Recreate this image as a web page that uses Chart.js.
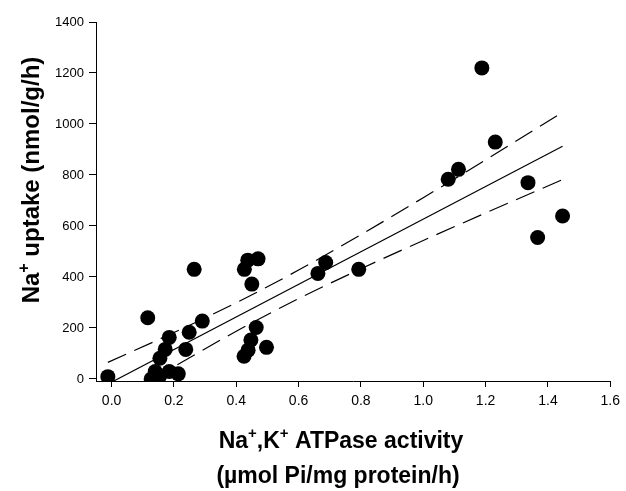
<!DOCTYPE html>
<html>
<head>
<meta charset="utf-8">
<script src="https://cdn.jsdelivr.net/npm/chart.js@4/dist/chart.umd.min.js"></script>
<style>
  html, body { margin: 0; padding: 0; background: #fff; }
  #wrap { width: 626px; height: 491px; }
</style>
</head>
<body>
<div id="wrap"><canvas id="c"></canvas></div>
<script>
// Na+,K+ ATPase activity (x) vs Na+ uptake (y), one dot per sample
const activity = [-0.012, 0.116, 0.127, 0.140, 0.153, 0.155, 0.172, 0.185, 0.185, 0.214,
                  0.238, 0.249, 0.265, 0.291, 0.425, 0.426, 0.437, 0.438, 0.447, 0.450,
                  0.464, 0.470, 0.497, 0.662, 0.687, 0.793, 1.080, 1.113, 1.188, 1.231,
                  1.336, 1.367, 1.447];
const uptake   = [9, 240, 0, 29, 9, 81, 116, 163, 29, 20,
                  116, 183, 430, 227, 89, 430, 466, 113, 153, 372,
                  202, 471, 124, 414, 457, 430, 783, 822, 1220, 929,
                  770, 555, 639];

// regression line and its 95% band, read along the x axis
const fitX   = [0.004, 1.447];
const fitY   = [-10, 913];
const upperX = [-0.012, 0.2, 0.4, 0.6, 0.8, 1.0, 1.2, 1.447];
const upperY = [65, 182, 299, 427, 566, 711, 859, 1046];
const lowerX = [0.13, 0.2, 0.4, 0.6, 0.8, 1.0, 1.2, 1.447];
const lowerY = [0, 48, 187, 315, 432, 543, 651, 782];

const xTicks = [0, 0.2, 0.4, 0.6, 0.8, 1.0, 1.2, 1.4, 1.6];
const yTicks = [0, 200, 400, 600, 800, 1000, 1200, 1400];

// axis titles as runs, superscript runs flagged
const yTitle  = [['Na'], ['+', true], [' uptake (nmol/g/h)']];
const xTitle1 = [['Na'], ['+', true], [',K'], ['+', true], [' ATPase activity']];
const xTitle2 = [['(\u00b5mol Pi/mg protein/h)']];

const FONT = '"Liberation Sans", Arial, sans-serif';

function pairs(xs, ys) {
    return xs.map((x, i) => ({ x: x, y: ys[i] }));
}

function runsWidth(ctx, runs, size, supSize) {
    let w = 0;
    runs.forEach(r => {
        ctx.font = 'bold ' + (r[1] ? supSize : size) + 'px ' + FONT;
        w += ctx.measureText(r[0]).width;
    });
    return w;
}

function drawRuns(ctx, runs, cx, baseline, size) {
    const supSize = Math.round(size * 0.66);
    let x = cx - runsWidth(ctx, runs, size, supSize) / 2;
    ctx.textAlign = 'left';
    ctx.textBaseline = 'alphabetic';
    runs.forEach(r => {
        const s = r[1] ? supSize : size;
        ctx.font = 'bold ' + s + 'px ' + FONT;
        ctx.fillText(r[0], x, r[1] ? baseline - size * 0.42 : baseline);
        x += ctx.measureText(r[0]).width;
    });
}

const axisTitles = {
    id: 'axisTitles',
    afterDraw(chart) {
        const ctx = chart.ctx;
        ctx.save();
        ctx.fillStyle = '#000';
        drawRuns(ctx, xTitle1, 341, 448, 23);
        drawRuns(ctx, xTitle2, 338, 483, 23);
        ctx.translate(39, 180);
        ctx.rotate(-Math.PI / 2);
        drawRuns(ctx, yTitle, 0, 0, 24);
        ctx.restore();
    }
};

new Chart(document.getElementById('c'), {
    data: {
        datasets: [
            {
                type: 'scatter',
                data: pairs(activity, uptake),
                backgroundColor: '#000',
                borderColor: '#000',
                borderWidth: 0,
                pointRadius: 7.5,
                order: 0
            },
            {
                type: 'line',
                data: pairs(fitX, fitY),
                borderColor: '#000',
                borderWidth: 1.2,
                pointRadius: 0,
                order: 1
            },
            {
                type: 'line',
                data: pairs(upperX, upperY),
                borderColor: '#000',
                borderWidth: 1.2,
                borderDash: [20, 9],
                pointRadius: 0,
                cubicInterpolationMode: 'monotone',
                order: 1
            },
            {
                type: 'line',
                data: pairs(lowerX, lowerY),
                borderColor: '#000',
                borderWidth: 1.2,
                borderDash: [20, 9],
                pointRadius: 0,
                cubicInterpolationMode: 'monotone',
                order: 1
            }
        ]
    },
    options: {
        responsive: true,
        maintainAspectRatio: false,
        animation: false,
        layout: { padding: { left: 0, top: 22, right: 13, bottom: 0 } },
        plugins: {
            legend: { display: false },
            tooltip: { enabled: false }
        },
        scales: {
            x: {
                type: 'linear',
                min: -0.05,
                max: 1.6,
                afterBuildTicks: s => { s.ticks = xTicks.map(v => ({ value: v })); },
                afterFit: s => { s.height = 110; },
                ticks: {
                    color: '#000',
                    padding: 6,
                    font: { family: FONT, size: 14 },
                    callback: v => v.toFixed(1)
                },
                grid: { drawOnChartArea: false, drawTicks: true, tickLength: 6, color: '#000' },
                border: { color: '#000', width: 1 }
            },
            y: {
                type: 'linear',
                min: -8,
                max: 1400,
                afterBuildTicks: s => { s.ticks = yTicks.map(v => ({ value: v })); },
                afterFit: s => { s.width = 96; },
                ticks: {
                    color: '#000',
                    padding: 5,
                    font: { family: FONT, size: 13 },
                    callback: v => String(v)
                },
                grid: { drawOnChartArea: false, drawTicks: true, tickLength: 7, color: '#000' },
                border: { color: '#000', width: 1 }
            }
        }
    },
    plugins: [axisTitles]
});
</script>
</body>
</html>
